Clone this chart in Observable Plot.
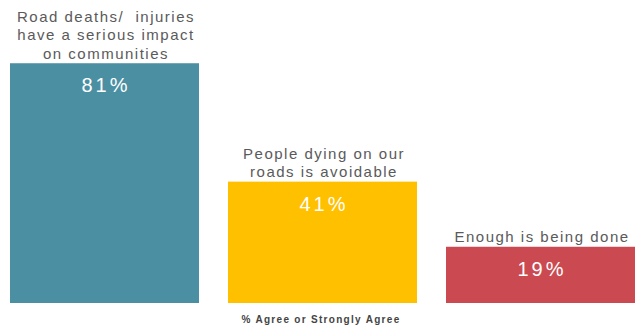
<!DOCTYPE html>
<html>
<head>
<meta charset="utf-8">
<script src="https://cdn.jsdelivr.net/npm/d3@7"></script>
<script src="https://cdn.jsdelivr.net/npm/@observablehq/plot@0.6"></script>
<style>
  html, body { margin: 0; padding: 0; background: #ffffff; }
  #chart svg { display: block; }
</style>
</head>
<body>
<div id="chart"></div>
<script>
const categories = [
  "Road deaths/  injuries\nhave a serious impact\non communities",
  "People dying on our\nroads is avoidable",
  "Enough is being done"
];
const values = [81, 41, 19];
const valueLabels = ["81%", "41%", "19%"];
const colors = ["#4b8fa3", "#ffc000", "#cb4a51"];
const caption = "% Agree or Strongly Agree";

const data = categories.map((c, i) => ({cat: c, value: values[i], label: valueLabels[i], color: colors[i]}));

const chart = Plot.plot({
  width: 636,
  height: 334,
  marginLeft: 9,
  marginRight: 0,
  marginTop: 7,
  marginBottom: 31,
  style: {fontFamily: "'Liberation Sans', Arial, sans-serif", background: "#ffffff"},
  x: {domain: categories, paddingInner: 0.132, paddingOuter: 0, axis: null},
  y: {domain: [0, 100], axis: null},
  marks: [
    Plot.barY(data, {x: "cat", y: "value", fill: "color"}),
    Plot.text(data, {x: "cat", y: "value", text: "cat", lineAnchor: "bottom", dy: -5, dx: 1, fontSize: 15, lineHeight: 1.22, fill: "#5a5a5a"}),
    Plot.text(data, {x: "cat", y: "value", text: "label", lineAnchor: "middle", dy: 22, dx: 1, fontSize: 20, fill: "#ffffff"}),
    Plot.text([caption], {frameAnchor: "bottom", text: d => d, dy: 19, dx: -2, fontSize: 10, fontWeight: "bold", fill: "#444444"})
  ]
});
const groups = chart.querySelectorAll('g[aria-label="text"]');
const spacings = ["1.5px", "3px", "1.3px"];
groups.forEach((g, i) => { g.style.letterSpacing = spacings[i] || "0px"; });
document.getElementById("chart").appendChild(chart);
</script>
</body>
</html>
